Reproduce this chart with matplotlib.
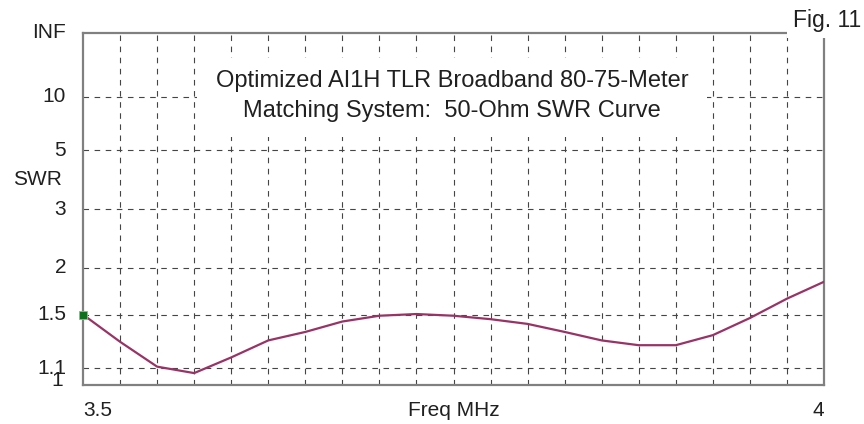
import matplotlib.pyplot as plt
import matplotlib.transforms as mtransforms
from matplotlib.patches import Rectangle

# SWR vs frequency
freq = [3.500, 3.525, 3.550, 3.575, 3.600, 3.625, 3.650, 3.675, 3.700, 3.725, 3.750,
        3.775, 3.800, 3.825, 3.850, 3.875, 3.900, 3.925, 3.950, 3.975, 4.000]
swr = [1.50, 1.28, 1.11, 1.07, 1.17, 1.29, 1.355, 1.44, 1.49, 1.505, 1.49,
       1.46, 1.42, 1.355, 1.29, 1.255, 1.255, 1.33, 1.47, 1.65, 1.83]

swr_ticks = [10, 5, 3, 2, 1.5, 1.1]
swr_labels = ['10', '5', '3', '2', '1.5', '1.1']


def rho(s):
    # EZNEC style scale: linear in reflection coefficient
    return (s - 1.0) / (s + 1.0)


W, H = 864, 424
plt.rcParams['font.family'] = ['Liberation Sans', 'DejaVu Sans']
fs = 15        # axis labels
fs_title = 17
txt = '#202020'

fig = plt.figure(figsize=(W / 100, H / 100), dpi=100)
L, R, T, B = 83, 824, 33, 385
ax = fig.add_axes([L / W, 1 - B / H, (R - L) / W, (B - T) / H])
ax.set_xlim(freq[0], freq[-1])
ax.set_ylim(0, 1)
ax.set_xticks([])
ax.set_yticks([])
for sp in ax.spines.values():
    sp.set_color('#808080')
    sp.set_linewidth(1.6)

# grid
gkw = dict(color='#454545', linewidth=0.8, linestyle=(0, (5, 5)), zorder=1)
ax.vlines(freq[1:-1], 0, 1, **gkw)
ax.hlines([rho(s) for s in swr_ticks], freq[0], freq[-1], **gkw)

# curve
ax.plot(freq, [rho(s) for s in swr], color='#993366', linewidth=1.6, zorder=4)
ax.plot(freq[0], rho(swr[0]), marker='s', markersize=5.5, color='#107020',
        markeredgecolor='#e080e0', markeredgewidth=0.6, zorder=5, clip_on=False)

# title with white box over the grid
def px_to_ax(x, y):
    return (x - L) / (R - L), (B - y) / (B - T)

x0, y0 = px_to_ax(197, 137)
x1, y1 = px_to_ax(707, 58)
ax.add_patch(Rectangle((x0, y0), x1 - x0, y1 - y0, transform=ax.transAxes,
                       facecolor='white', edgecolor='none', zorder=2))
cx = (x0 + x1) / 2
ax.text(cx, px_to_ax(0, 81)[1], 'Optimized AI1H TLR Broadband 80-75-Meter',
        transform=ax.transAxes, ha='center', va='center', fontsize=fs_title, color=txt, zorder=3)
ax.text(cx, px_to_ax(0, 111)[1], 'Matching System:  50-Ohm SWR Curve',
        transform=ax.transAxes, ha='center', va='center', fontsize=fs_title, color=txt, zorder=3)

# y labels
ytr = mtransforms.blended_transform_factory(ax.transAxes, ax.transData)
lx = (66 - L) / (R - L)
ax.text(lx, 1.0, 'INF', transform=ytr, ha='right', va='center', fontsize=fs, color=txt)
for s, lab in zip(swr_ticks, swr_labels):
    ax.text(lx, rho(s), lab, transform=ytr, ha='right', va='center', fontsize=fs, color=txt)
ax.text((63 - L) / (R - L), 0.0, '1', ha='right', va='center', fontsize=fs, color=txt,
        transform=mtransforms.offset_copy(ytr, fig=fig, x=0, y=5, units='dots'))
ax.text((37 - L) / (R - L), px_to_ax(0, 179)[1], 'SWR', transform=ax.transAxes,
        ha='center', va='center', fontsize=fs, color=txt)

# x labels
ly = px_to_ax(0, 411)[1]
ax.text(0.0, ly, '3.5', transform=ax.transAxes, ha='left', va='center', fontsize=fs, color=txt)
ax.text(1.0, ly, '4', transform=ax.transAxes, ha='right', va='center', fontsize=fs, color=txt)
ax.text(0.5, ly, 'Freq MHz', transform=ax.transAxes, ha='center', va='center', fontsize=fs, color=txt)

# "Fig. 11" label covering the top right corner
fig.patches.append(Rectangle((787 / W, 1 - 38 / H), 1 - 787 / W, 38 / H,
                             transform=fig.transFigure, facecolor='white',
                             edgecolor='none', zorder=1))
fig.text(793 / W, 1 - 21 / H, 'Fig. 11', ha='left', va='center', fontsize=16.5, color=txt, zorder=3)

fig.savefig('out.png', dpi=100)
